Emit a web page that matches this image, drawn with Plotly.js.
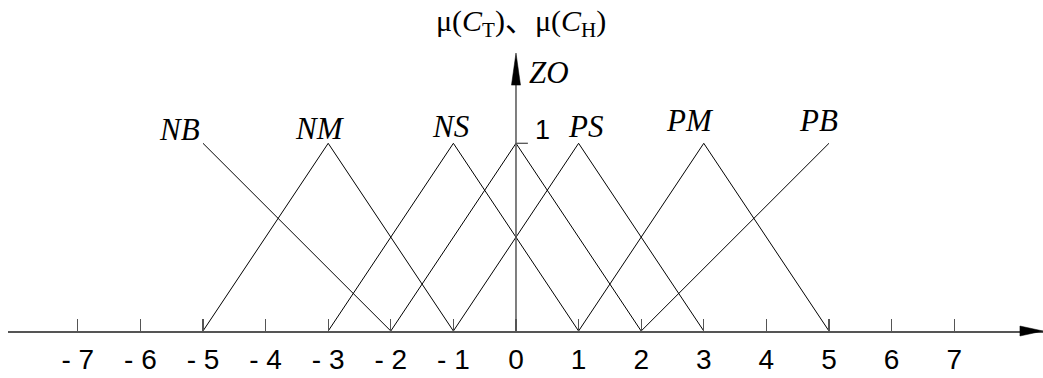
<!DOCTYPE html>
<html>
<head>
<meta charset="utf-8">
<script src="https://cdn.plot.ly/plotly-3.0.1.min.js"></script>
<style>html,body{margin:0;padding:0;background:#fff;}#chart{width:1043px;height:378px;}</style>
</head>
<body>
<div id="chart"></div>
<script>
// ---- data ----
const setNames = ['NB', 'NM', 'NS', 'ZO', 'PS', 'PM', 'PB'];
const nbX = [-5, -2];        const nbY = [1, 0];
const nmX = [-5, -3, -1];    const nmY = [0, 1, 0];
const nsX = [-3, -1, 1];     const nsY = [0, 1, 0];
const zoX = [-2, 0, 2];      const zoY = [0, 1, 0];
const psX = [-1, 1, 3];      const psY = [0, 1, 0];
const pmX = [1, 3, 5];       const pmY = [0, 1, 0];
const pbX = [2, 5];          const pbY = [0, 1];
const tickValues = [-7, -6, -5, -4, -3, -2, -1, 0, 1, 2, 3, 4, 5, 6, 7];
const tickLabels = ['- 7', '- 6', '- 5', '- 4', '- 3', '- 2', '- 1', '0', '1', '2', '3', '4', '5', '6', '7'];
const yTitle = 'μ(<i>C</i><sub>T</sub>)、μ(<i>C</i><sub>H</sub>)';

// ---- traces ----
const seriesX = [nbX, nmX, nsX, zoX, psX, pmX, pbX];
const seriesY = [nbY, nmY, nsY, zoY, psY, pmY, pbY];
const traces = seriesX.map((xs, i) => ({
  x: xs, y: seriesY[i], name: setNames[i], type: 'scatter', mode: 'lines',
  line: {color: '#000', width: 1}, hoverinfo: 'skip', showlegend: false, cliponaxis: false
}));

// ---- layout ----
const serif = 'Liberation Serif, Times New Roman, Noto Sans CJK SC, serif';
const sans = 'Liberation Sans, Arial, sans-serif';
const labelPos = {NB: [-5.37, 1.071], NM: [-3.13, 1.081], NS: [-1.054, 1.087], ZO: [0.527, 1.375],
                  PS: [1.118, 1.087], PM: [2.78, 1.119], PB: [4.84, 1.119]};
const annotations = setNames.map(n => ({
  x: labelPos[n][0], y: labelPos[n][1], xref: 'x', yref: 'y', text: '<i>' + n + '</i>',
  showarrow: false, xanchor: 'center', yanchor: 'middle',
  font: {family: serif, size: 31, color: '#000'}
}));
annotations.push({x: 0.431, y: 1.071, xref: 'x', yref: 'y', text: '1', showarrow: false,
  xanchor: 'center', yanchor: 'middle', font: {family: sans, size: 27, color: '#000'}});
annotations.push({x: 0.08, y: 1.64, xref: 'x', yref: 'y', text: yTitle, showarrow: false,
  xanchor: 'center', yanchor: 'middle', font: {family: serif, size: 30, color: '#000'}});

const axisCol = '#555';
const shapes = [
  {type: 'line', xref: 'x', yref: 'y', x0: 0, x1: 0, y0: 0, y1: 1.32, line: {color: axisCol, width: 1.5}},
  {type: 'path', xref: 'x', yref: 'y', path: 'M -0.072,1.31 L 0,1.481 L 0.072,1.31 Z',
   fillcolor: '#000', line: {color: '#000', width: 0.5}},
  {type: 'line', xref: 'x', yref: 'y', x0: 0, x1: 0.19, y0: 1, y1: 1, line: {color: axisCol, width: 1.3}},
  {type: 'path', xref: 'x', yref: 'y', path: 'M 8.051,0.0266 L 8.419,0 L 8.051,-0.0266 Z',
   fillcolor: '#000', line: {color: '#000', width: 0.5}}
];

const layout = {
  width: 1043, height: 378,
  margin: {l: 8, r: 0, t: 0, b: 38, pad: 0},
  paper_bgcolor: '#fff', plot_bgcolor: '#fff',
  showlegend: false,
  xaxis: {
    range: [-8.115, 8.419], anchor: 'free', position: 9 / 340,
    showline: true, linecolor: axisCol, linewidth: 1.5,
    ticks: 'inside', ticklen: 12, tickwidth: 1.3, tickcolor: axisCol,
    tickmode: 'array', tickvals: tickValues, ticktext: tickLabels,
    tickfont: {family: sans, size: 28, color: '#000'}, ticklabelstandoff: 3,
    showgrid: false, zeroline: false, fixedrange: true
  },
  yaxis: {range: [-0.0479, 1.7635], visible: false, fixedrange: true},
  annotations: annotations,
  shapes: shapes
};

Plotly.newPlot('chart', traces, layout, {displayModeBar: false, staticPlot: true});
</script>
</body>
</html>
